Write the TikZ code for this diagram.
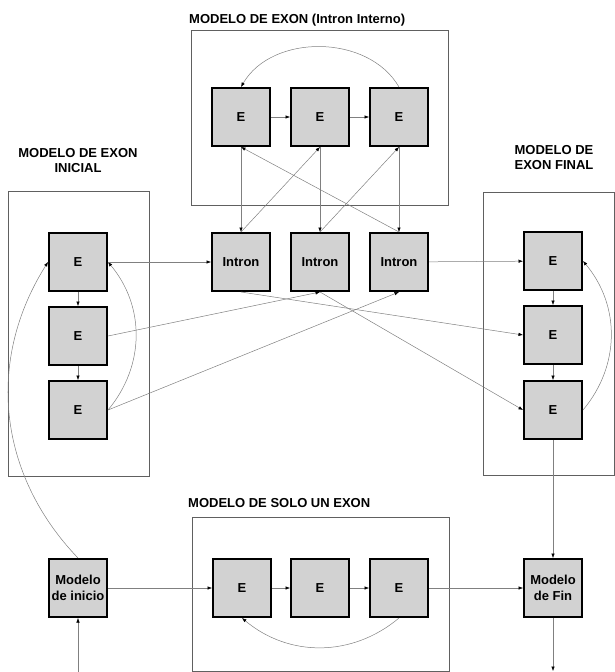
\documentclass[tikz,border=0pt]{standalone}
\usepackage{fontspec}
\setmainfont{Liberation Sans}
\usetikzlibrary{arrows.meta}

\begin{document}
\begin{tikzpicture}[x=1pt,y=-1pt,>={Latex[length=4.5pt,width=3.5pt,black]},
        estado/.style={draw=black,line width=2pt,fill=gray!35,minimum width=58pt,minimum height=58pt,inner sep=0pt,align=center,font=\fontsize{13}{15.5}\selectfont\bfseries},
        marco/.style={draw=gray!75!black,line width=0.8pt},
        titulo/.style={inner sep=0pt,align=center,font=\fontsize{13}{15}\selectfont\bfseries},
        enlace/.style={->,draw=gray,line width=0.5pt}]
            \useasboundingbox (0,0) rectangle (615,672);

            \draw[marco] (191,30) rectangle (448,205);
            \draw[marco] (8,191) rectangle (149,476);
            \draw[marco] (483,192) rectangle (614,475);
            \draw[marco] (192,517) rectangle (449,671);

            \node[titulo,anchor=west] (tInterno) at (189,20) {MODELO DE EXON (Intron Interno)};
            \node[titulo] (tInicial) at (78,161) {MODELO DE EXON\\INICIAL};
            \node[titulo] (tFinal) at (554,158) {MODELO DE\\EXON FINAL};
            \node[titulo,anchor=west] (tSolo) at (188,503) {MODELO DE SOLO UN EXON};

            \node[estado] (T1) at (241,117) {E};
            \node[estado] (T2) at (320,117) {E};
            \node[estado] (T3) at (399,117) {E};
            \node[estado] (I1) at (241,262) {Intron};
            \node[estado] (I2) at (320,262) {Intron};
            \node[estado] (I3) at (399,262) {Intron};
            \node[estado] (L1) at (78,262) {E};
            \node[estado] (L2) at (78,336) {E};
            \node[estado] (L3) at (78,410) {E};
            \node[estado] (R1) at (553,261) {E};
            \node[estado] (R2) at (553,335) {E};
            \node[estado] (R3) at (553,410) {E};
            \node[estado] (Ini) at (78,588) {Modelo\\de inicio};
            \node[estado] (S1) at (242,588) {E};
            \node[estado] (S2) at (320,588) {E};
            \node[estado] (S3) at (399,588) {E};
            \node[estado] (Fin) at (553,588) {Modelo\\de Fin};
            \coordinate (entrada) at (78,672);
            \coordinate (salida) at (553,671);

            \draw[enlace] (T1) -- (T2); \draw[enlace] (T2) -- (T3); \draw[enlace] (T3.north) to[bend right=60] (T1.north);
            \draw[enlace] (T1) -- (I1); \draw[enlace] (T2) -- (I2); \draw[enlace] (T3) -- (I3);
            \draw[enlace] (I1.north) -- (T2.south); \draw[enlace] (I2.north) -- (T3.south); \draw[enlace] (I3.north) -- (T1.south);
            \draw[enlace] (L1) -- (L2); \draw[enlace] (L2) -- (L3); \draw[enlace] (L3.east) to[bend right=40] (L1.east);
            \draw[enlace] (L1) -- (I1); \draw[enlace] (L2.east) -- (I2.south); \draw[enlace] (L3.east) -- (I3.south);
            \draw[enlace] (I3) -- (R1); \draw[enlace] (I1.south) -- (R2.west); \draw[enlace] (I2.south) -- (R3.west);
            \draw[enlace] (R1) -- (R2); \draw[enlace] (R2) -- (R3); \draw[enlace] (R3.east) to[bend right=40] (R1.east);
            \draw[enlace] (entrada) -- (Ini); \draw[enlace] (Ini.north) to[bend left=38] (L1.west);
            \draw[enlace] (Ini) -- (S1); \draw[enlace] (S1) -- (S2); \draw[enlace] (S2) -- (S3); \draw[enlace] (S3.south) to[bend left=40] (S1.south);
            \draw[enlace] (S3) -- (Fin); \draw[enlace] (R3) -- (Fin); \draw[enlace] (Fin) -- (salida);
        \end{tikzpicture}
\end{document}
